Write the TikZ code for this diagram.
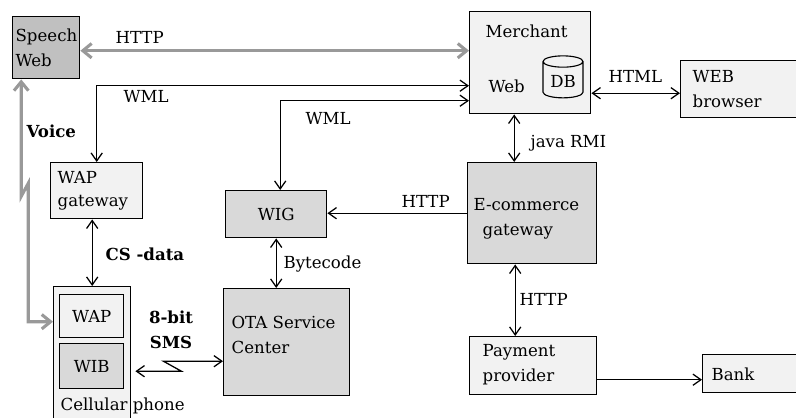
\documentclass[tikz,border=0pt]{standalone}
\usepackage{fontspec}
\setmainfont{DejaVu Serif}
\usetikzlibrary{arrows.meta,shapes.geometric}
\definecolor{lightbox}{HTML}{F2F2F2}
\definecolor{midbox}{HTML}{D9D9D9}
\definecolor{darkbox}{HTML}{C0C0C0}
\definecolor{linkgray}{HTML}{999999}
\newcommand{\diagfont}{\fontsize{11.8}{17.8}\selectfont}
\tikzset{
  box/.style={draw, line width=1pt, fill=lightbox, anchor=north west, inner sep=0pt, font=\diagfont},
  midbx/.style={box, fill=midbox},
  txt/.style={inner sep=0pt, anchor=base west, font=\diagfont},
  mtxt/.style={inner sep=0pt, anchor=north west, align=left, font=\diagfont},
  glink/.style={draw=linkgray, line width=2.2pt, {Straight Barb[length=2.2mm,width=3.6mm]}-{Straight Barb[length=2.2mm,width=3.6mm]}}
}

\begin{document}
\begin{tikzpicture}[x=0.25mm, y=-0.25mm, line width=0.9pt, >={Straight Barb[length=2mm,width=2.8mm]}]
\useasboundingbox (0,0) rectangle (796,417);
\clip (0,0) rectangle (796,417);

\node[box, fill=darkbox, minimum width=16.75mm, minimum height=15.5mm] (speech) at (12,16) {};
\node[box, minimum width=30.25mm, minimum height=25.5mm] (merchant) at (469,11) {};
\node[box, minimum width=30mm, minimum height=14.25mm] (browser) at (680,60) {};
\node[box, minimum width=23mm, minimum height=14mm] (wapgw) at (50,162) {};
\node[midbx, minimum width=25.25mm, minimum height=11.75mm] (wig) at (225,190) {WIG};
\node[midbx, minimum width=32.25mm, minimum height=25.25mm] (ecom) at (467,162) {};
\node[midbx, minimum width=31.5mm, minimum height=26.75mm] (ota) at (223,288) {};
\node[box, minimum width=19.25mm, minimum height=35mm] (phone) at (53,286) {};
\node[box, minimum width=16mm, minimum height=10.75mm] (pwap) at (59,294) {WAP};
\node[midbx, minimum width=16mm, minimum height=11.25mm] (pwib) at (59,343) {WIB};
\node[box, minimum width=31.75mm, minimum height=14.5mm] (payment) at (469,336) {};
\node[box, minimum width=25mm, minimum height=9.5mm] (bank) at (702,354) {};

\node[mtxt] (speecht) at (15,28) {Speech\\Web};
\node[txt] (merchantt) at (485,37) {Merchant};
\node[txt] (webt) at (488,92) {Web};
\node[cylinder, shape border rotate=90, draw, line width=0.8pt, aspect=0.4,
  minimum width=10mm, minimum height=10.5mm, inner sep=1pt, font=\diagfont] (db) at (563,81) {DB};
\node[mtxt] (browsert) at (692,70) {WEB\\browser};
\node[mtxt, font=\fontsize{11.8}{16.4}\selectfont] (wapgwt) at (57,171) {WAP\\gateway};
\node[mtxt] (ecomt) at (473,198) {E-commerce\\\hspace*{2.25mm}gateway};
\node[mtxt] (otat) at (231,316) {OTA Service\\Center};
\node[mtxt] (paymentt) at (482,344) {Payment\\provider};
\node[txt] (bankt) at (711,380) {Bank};
\node[txt] (phonet) at (60,410) {Cellular phone};

\node[txt] (lhttpa) at (115,43) {HTTP};
\node[txt] (lwmla) at (123,102) {WML};
\node[txt] (lwmlb) at (305,124) {WML};
\node[txt] (lhttpb) at (401,207) {HTTP};
\node[txt] (lhtml) at (608,82) {HTML};
\node[txt] (lrmi) at (530,147) {java RMI};
\node[txt] (lhttpc) at (519,305) {HTTP};
\node[txt] (lbyte) at (283,268) {Bytecode};
\node[txt, font=\diagfont\bfseries] (lcs) at (105,260) {CS -data};
\node[txt, font=\diagfont\bfseries] (lvoice) at (26,137) {Voice};
\node[mtxt, anchor=north, align=center, font=\diagfont\bfseries] (lsms) at (171,310) {8-bit\\SMS};

\draw[glink] ([shift={(0,3)}]speech.east) -- ([shift={(0,3)}]speech.east -| merchant.west);
\coordinate (vc) at ([shift={(-25,0)}]speech.south);
\draw[glink] (vc) -- ++(0,117) -- ++(7,-13) |- ([shift={(0,-35)}]phone.west);

\draw[<->] ([shift={(0,23)}]merchant.west) -| (wapgw.north);
\draw[<->] ([shift={(0,38)}]merchant.west) -| ([shift={(4,0)}]wig.north);
\draw[->] (ecom.west) -- (ecom.west -| wig.east);
\coordinate (rmi) at ([shift={(-16,0)}]merchant.south);
\draw[<->] (rmi) -- (rmi |- ecom.north);
\coordinate (html) at ([shift={(0,4)}]browser.west);
\draw[<->] (html -| merchant.east) -- (html);
\coordinate (pay) at ([shift={(-17,0)}]ecom.south);
\draw[<->] (pay) -- (pay |- payment.north);
\coordinate (bk) at ([shift={(0,6)}]bank.west);
\draw[->] (bk -| payment.east) -- (bk);
\draw[<->] (wig.south) -- (wig.south |- ota.north);
\draw[<->] (wapgw.south -| phone.north) -- (phone.north);
\coordinate (smsa) at (pwib.east -| phone.east);
\draw[<->] ([shift={(4,5)}]smsa) -- ++(46,0) -- ++(-18,-10) coordinate (smsb) -- (smsb -| ota.west);
\end{tikzpicture}
\end{document}
